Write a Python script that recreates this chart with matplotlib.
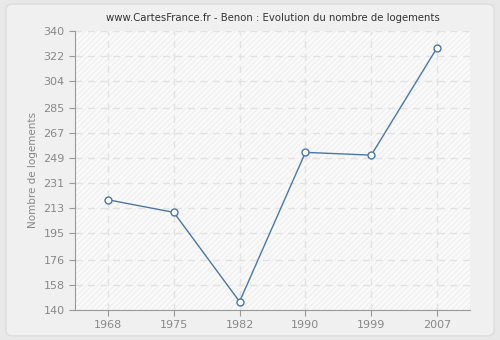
import matplotlib
matplotlib.use("Agg")
import matplotlib.pyplot as plt
from matplotlib.patches import FancyBboxPatch

years = ["1968", "1975", "1982", "1990", "1999", "2007"]
values = [219, 210, 146, 253, 251, 328]
yticks = [140, 158, 176, 195, 213, 231, 249, 267, 285, 304, 322, 340]

fig = plt.figure(figsize=(5, 3.4), dpi=100)
fig.patch.set_facecolor("#e8e8e8")
bg = FancyBboxPatch((0.012, 0.012), 0.976, 0.976, boxstyle="round,pad=0,rounding_size=0.015",
                    transform=fig.transFigure, facecolor="#f0f0f0", edgecolor="#dddddd", lw=1, zorder=-10)
fig.patches.append(bg)

ax = fig.add_axes([75/500, 1 - 310/340, (470-75)/500, (310-31)/340])
ax.set_facecolor("#fafafa")
ax.add_patch(plt.Rectangle((0, 0), 1, 1, transform=ax.transAxes, facecolor="none",
                           edgecolor="#f0f0f0", hatch="//////", lw=0, zorder=0))
x = list(range(len(years)))
ax.plot(x, values, color="#4a77aa", lw=1, marker="o", ms=5, mfc="white", mec="#4a77aa", mew=1, zorder=3)
ax.set_xlim(-0.5, 5.5)
ax.set_ylim(140, 340)
ax.set_xticks(x)
ax.set_xticklabels(years)
ax.set_yticks(yticks)
ax.grid(True, color="#e2e2e2", ls=(0, (5, 4)), lw=1)
for s in ["top", "right"]:
    ax.spines[s].set_visible(False)
for s in ["left", "bottom"]:
    ax.spines[s].set_color("#999999")
ax.tick_params(colors="#999999", labelcolor="#888888", labelsize=8, length=4)
ax.set_ylabel("Nombre de logements", color="#888888", fontsize=7.5)
ax.set_title("www.CartesFrance.fr - Benon : Evolution du nombre de logements", fontsize=7.3, color="#333333", pad=7)
fig.savefig("out.png", dpi=100, facecolor=fig.get_facecolor())
